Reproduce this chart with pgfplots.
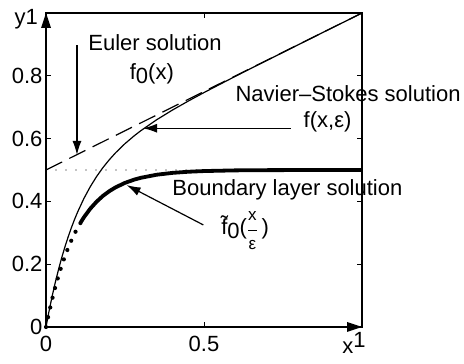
\documentclass[border=0pt]{standalone}
\usepackage{fontspec}
\setmainfont{Liberation Sans}
\usepackage{pgfplots}
\pgfplotsset{compat=1.18}
\usetikzlibrary{arrows.meta}

\newcommand\bigfont{\fontsize{22}{26}\selectfont}
\newcommand\fracfont{\fontsize{17}{20}\selectfont}

\begin{document}
\begin{tikzpicture}[font=\bigfont]
\begin{axis}[
    scale only axis,
    width=316pt, height=314pt,
    xmin=0, xmax=1, ymin=0, ymax=1,
    clip=false,
    axis line style={line width=1.3pt},
    tick align=inside,
    major tick length=5pt,
    tick style={line width=1pt, black},
    xtick={0,0.5,1}, xticklabels={0,0.5,},
    ytick={0,0.2,0.4,0.6,0.8,1}, yticklabels={0,0.2,0.4,0.6,0.8,},
    ticklabel style={font=\bigfont},
    xticklabel style={yshift=-6pt},
]

% box corners of the whole picture
\path (axis cs:-0.1456,-0.1178) rectangle (axis cs:1.3228,1.0414);

% Euler solution
\addplot[black, line width=1.2pt, dash pattern=on 18pt off 8pt] coordinates {(0,0.5) (1,1)};

% limit y = 0.5
\addplot[black, line width=1.3pt, line cap=round, dash pattern=on 0pt off 10pt] coordinates {(0,0.5) (1,0.5)};

% Navier-Stokes solution
\addplot[black, line width=1.2pt] coordinates {
    (0,0) (0.01,0.0526) (0.02,0.1006) (0.03,0.1446) (0.04,0.1848)
    (0.05,0.2217) (0.06,0.2556) (0.07,0.2867) (0.08,0.3153) (0.09,0.3417)
    (0.10,0.3661) (0.12,0.4094) (0.14,0.4467) (0.16,0.4791) (0.18,0.5074)
    (0.20,0.5323) (0.22,0.5546) (0.25,0.5840) (0.28,0.6096) (0.30,0.6251)
    (0.35,0.6599) (0.40,0.6908) (0.45,0.7194) (0.50,0.7466) (0.60,0.7988)
    (0.70,0.8495) (0.80,0.8998) (1.0,1.0)
};

% boundary layer solution, dotted part
\addplot[black, line width=4.2pt, line cap=round, dash pattern=on 0pt off 10pt] coordinates {
    (0,0) (0.01,0.0476) (0.02,0.0906) (0.03,0.1296) (0.04,0.1648)
    (0.05,0.1967) (0.06,0.2256) (0.07,0.2517) (0.08,0.2753) (0.09,0.2967)
    (0.10,0.3161) (0.12,0.3494)
};
% boundary layer solution, solid part
\addplot[black, line width=3.8pt] coordinates {
    (0.11,0.3335) (0.12,0.3494) (0.14,0.3767) (0.16,0.3990) (0.18,0.4174)
    (0.20,0.4323) (0.22,0.4446) (0.25,0.4590) (0.28,0.4696) (0.30,0.4751)
    (0.35,0.4849) (0.40,0.4908) (0.45,0.4944) (0.50,0.4966) (0.60,0.4988)
    (0.70,0.4995) (0.80,0.4998) (1.0,0.5)
};

% arrow heads on the axes
\fill[black] (axis cs:0,1) -- ([xshift=-5pt,yshift=-15pt]axis cs:0,1) -- ([xshift=5pt,yshift=-15pt]axis cs:0,1) -- cycle;
\fill[black] (axis cs:1,0) -- ([xshift=-15pt,yshift=-5pt]axis cs:1,0) -- ([xshift=-15pt,yshift=5pt]axis cs:1,0) -- cycle;

% axis names
\node[anchor=base east, inner sep=0pt] at (axis cs:-0.025,0.962) {y1};
\node[anchor=base west, inner sep=0pt] at (axis cs:0.937,-0.083) {x\raisebox{0.27em}{1}};

% annotations
\node[anchor=base] at (axis cs:0.345,0.882) {Euler solution};
\node[anchor=base] at (axis cs:0.335,0.787) {f\raisebox{-0.18em}{0}(x)};
\draw[line width=1.2pt, -{Latex[length=14pt,width=9pt]}] (axis cs:0.098,0.898) -- (axis cs:0.098,0.548);

\node[anchor=base] at (axis cs:0.956,0.7175) {Navier–Stokes solution};
\node[anchor=base] at (axis cs:0.891,0.634) {f(x,ε)};
\draw[line width=1.2pt, -{Latex[length=14pt,width=9pt]}] (axis cs:0.775,0.633) -- (axis cs:0.307,0.633);

\node[anchor=base] at (axis cs:0.764,0.42) {Boundary layer solution};
\node[anchor=base] at (axis cs:0.63,0.293) {\~{f}\raisebox{-0.18em}{0}($\displaystyle\frac{\mbox{\fracfont x}}{\mbox{\fracfont ε}}$\,)};
\draw[line width=1.2pt, -{Latex[length=14pt,width=9pt]}] (axis cs:0.498,0.325) -- (axis cs:0.255,0.452);

\end{axis}
\end{tikzpicture}
\end{document}
